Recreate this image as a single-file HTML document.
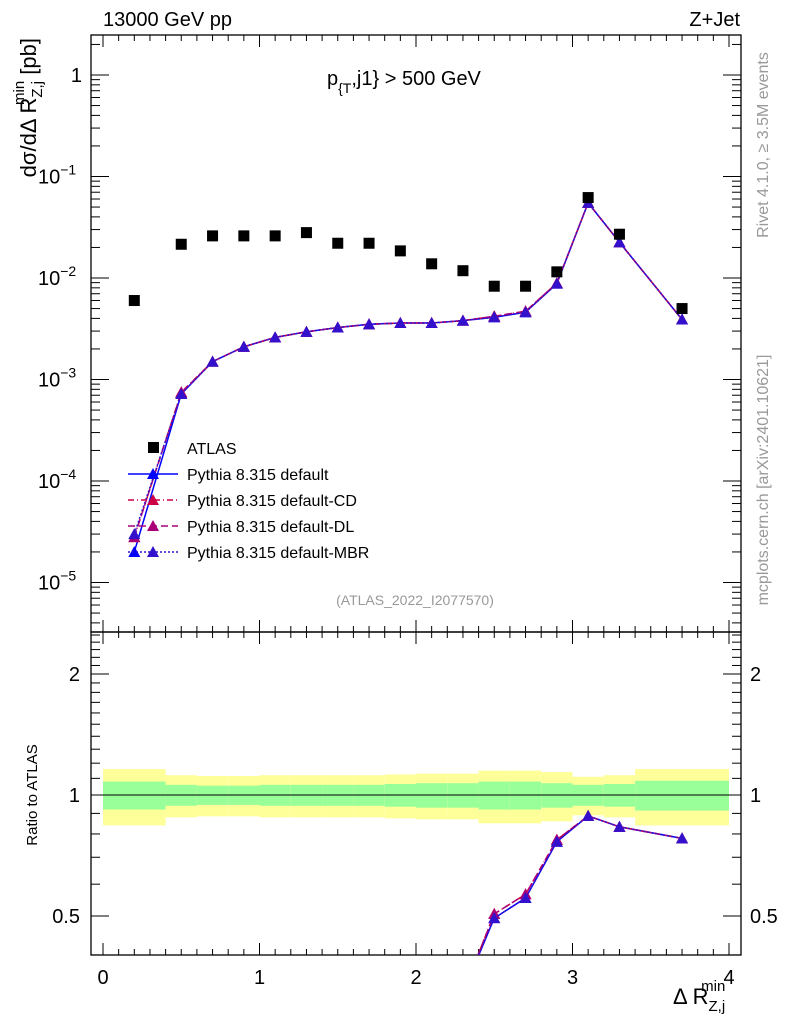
<!DOCTYPE html>
<html><head><meta charset="utf-8"><style>
html,body{margin:0;background:#fff;overflow:hidden;width:786px;height:1024px;}
svg{display:block;font-family:"Liberation Sans",sans-serif;}
</style></head><body>
<svg id="chart" width="786" height="1024" viewBox="0 0 786 1024" xmlns="http://www.w3.org/2000/svg">
<g id="g"></g>
</svg>
<script>
const xVals=[0.2,0.5,0.7,0.9,1.1,1.3,1.5,1.7,1.9,2.1,2.3,2.5,2.7,2.9,3.1,3.3,3.7];
const atlasVals=[0.0060,0.0215,0.026,0.026,0.026,0.028,0.022,0.022,0.0185,0.0138,0.0118,0.0083,0.0083,0.0115,0.062,0.027,0.0050];
const pyDefault=[2.0e-5,7.2e-4,1.5e-3,2.1e-3,2.6e-3,2.95e-3,3.25e-3,3.5e-3,3.6e-3,3.6e-3,3.8e-3,4.1e-3,4.6e-3,8.8e-3,0.055,0.0225,3.9e-3];
const pyCD=[2.8e-5,7.5e-4,1.5e-3,2.1e-3,2.6e-3,2.95e-3,3.25e-3,3.5e-3,3.6e-3,3.6e-3,3.8e-3,4.2e-3,4.7e-3,8.9e-3,0.055,0.0225,3.9e-3];
const pyDL=[2.8e-5,7.4e-4,1.5e-3,2.1e-3,2.6e-3,2.95e-3,3.25e-3,3.5e-3,3.6e-3,3.6e-3,3.8e-3,4.2e-3,4.7e-3,8.9e-3,0.055,0.0225,3.9e-3];
const pyMBR=[3.0e-5,7.2e-4,1.5e-3,2.1e-3,2.6e-3,2.95e-3,3.25e-3,3.5e-3,3.6e-3,3.6e-3,3.8e-3,4.1e-3,4.6e-3,8.8e-3,0.055,0.0225,3.9e-3];
const binEdges=[0,0.4,0.6,0.8,1.0,1.2,1.4,1.6,1.8,2.0,2.2,2.4,2.6,2.8,3.0,3.2,3.4,4.0];
const bandYellow=[0.16,0.12,0.115,0.115,0.12,0.12,0.12,0.12,0.125,0.13,0.13,0.15,0.15,0.14,0.11,0.12,0.16];
const bandGreen=[0.08,0.06,0.055,0.055,0.06,0.06,0.06,0.06,0.065,0.07,0.07,0.08,0.08,0.07,0.06,0.065,0.085];
const xTicks=[0,1,2,3,4];
const yTicks=[1,0.1,0.01,0.001,0.0001,0.00001];
const yTickLabels=["1","10","10","10","10","10"];
const yTickExp=["","−1","−2","−3","−4","−5"];
const rTicks=[0.5,1,2];
const rTickLabels=["0.5","1","2"];

const NS="http://www.w3.org/2000/svg";
const g=document.getElementById('g');
const L=91,R=741,T=35,M=632,B=955;
const X=v=>103+(729-103)*v/4;
const Y=v=>75-101.5*Math.log10(v);
const RY=v=>795-402*Math.log10(v);
function el(tag,attrs,parent){const e=document.createElementNS(NS,tag);for(const k in attrs)e.setAttribute(k,attrs[k]);(parent||g).appendChild(e);return e;}
function txt(x,y,s,attrs,parent){const t=el('text',Object.assign({x:x,y:y},attrs||{}),parent);t.textContent=s;return t;}

const clipR=el('clipPath',{id:'cr'});el('rect',{x:L,y:M,width:R-L,height:B-M},clipR);
const clipM=el('clipPath',{id:'cm'});el('rect',{x:L,y:T,width:R-L,height:M-T},clipM);
const bands=el('g',{'clip-path':'url(#cr)'});

for(let i=0;i<bandYellow.length;i++){
  const x0=X(binEdges[i]),x1=X(binEdges[i+1]);
  const r1=el('rect',{x:x0,y:RY(1+bandYellow[i]),width:x1-x0,height:RY(1-bandYellow[i])-RY(1+bandYellow[i]),fill:'#ffff99'},bands);
  
  const r2=el('rect',{x:x0,y:RY(1+bandGreen[i]),width:x1-x0,height:RY(1-bandGreen[i])-RY(1+bandGreen[i]),fill:'#99ff99'},bands);
  
}
el('line',{x1:X(0),x2:X(4),y1:RY(1),y2:RY(1),stroke:'#000','stroke-width':1});

for(const [y0,y1,nm] of [[T,M,'main-frame'],[M,B,'ratio-frame']]){
  const f=el('rect',{x:L,y:y0,width:R-L,height:y1-y0,fill:'none',stroke:'#000','stroke-width':1.3});
  
}
for(const [y0,y1] of [[T,M],[M,B]]){
  for(let k=0;k<=40;k++){
    const v=k/10;
    const major=k%10==0;const len=major?12:6;
    el('line',{x1:X(v),x2:X(v),y1:y1,y2:y1-len,stroke:'#000'});
    el('line',{x1:X(v),x2:X(v),y1:y0,y2:y0+len,stroke:'#000'});
  }
}
xTicks.forEach(v=>{const t=txt(X(v),984,String(v),{'font-size':20,'text-anchor':'middle'});});
for(let d=-6;d<=0;d++){
  for(let m=1;m<10;m++){
    const v=m*Math.pow(10,d);const y=Y(v);if(y<T||y>M)continue;
    const len=m==1?18:9;
    el('line',{x1:L,x2:L+len,y1:y,y2:y,stroke:'#000'});
    el('line',{x1:R,x2:R-len,y1:y,y2:y,stroke:'#000'});
  }
}
yTicks.forEach((v,i)=>{
  const t=el('text',{x:i==0?82:38,y:Y(v)+7,'font-size':20,'text-anchor':i==0?'end':'start'});
  
  t.textContent=yTickLabels[i];
  if(yTickExp[i]){const s=el('tspan',{dy:-9,'font-size':14},t);s.textContent=yTickExp[i];}
});
for(let k=4;k<=25;k++){
  const v=k/10;const y=RY(v);if(y<M||y>B)continue;
  const major=(k==5||k==10||k==20);const len=major?18:9;
  el('line',{x1:L,x2:L+len,y1:y,y2:y,stroke:'#000'});
  el('line',{x1:R,x2:R-len,y1:y,y2:y,stroke:'#000'});
}
rTicks.forEach((v,i)=>{
  const t1=txt(80,RY(v)+7,rTickLabels[i],{'font-size':20,'text-anchor':'end'});
  
  const t2=txt(750,RY(v)+7,rTickLabels[i],{'font-size':20});
  
});

const series=[
 {vals:pyDefault,color:'#0000ff',dash:'',name:'Pythia 8.315 default',nm:'series-default'},
 {vals:pyCD,color:'#cc0044',dash:'6,3,1,3',name:'Pythia 8.315 default-CD',nm:'series-cd'},
 {vals:pyDL,color:'#aa0077',dash:'7,4',name:'Pythia 8.315 default-DL',nm:'series-dl'},
 {vals:pyMBR,color:'#3311cc',dash:'2,2',name:'Pythia 8.315 default-MBR',nm:'series-mbr'}
];
function tri(parent,x,y,c){return el('polygon',{points:`${x},${y-6} ${x-6},${y+5} ${x+6},${y+5}`,fill:c},parent);}
const mainG=el('g',{'clip-path':'url(#cm)'});
const ratG=el('g',{'clip-path':'url(#cr)'});
series.forEach(s=>{
  const gm=el('g',{},mainG);
  const pts=xVals.map((x,i)=>X(x)+','+Y(s.vals[i])).join(' ');
  el('polyline',{points:pts,fill:'none',stroke:s.color,'stroke-width':1.5,'stroke-dasharray':s.dash},gm);
  xVals.forEach((x,i)=>{const p=tri(gm,X(x),Y(s.vals[i]),s.color);});
  const gr=el('g',{},ratG);
  const rp=xVals.map((x,i)=>X(x)+','+RY(s.vals[i]/atlasVals[i])).join(' ');
  el('polyline',{points:rp,fill:'none',stroke:s.color,'stroke-width':1.5,'stroke-dasharray':s.dash},gr);
  xVals.forEach((x,i)=>{const p=tri(gr,X(x),RY(s.vals[i]/atlasVals[i]),s.color);});
});
const ag=el('g',{},mainG);
xVals.forEach((x,i)=>{const r=el('rect',{x:X(x)-5.5,y:Y(atlasVals[i])-5.5,width:11,height:11,fill:'#000'},ag);});

const lg=el('g',{});
el('rect',{x:148,y:442,width:11,height:11,fill:'#000'},lg);
txt(187,454,'ATLAS',{'font-size':16},lg);
series.forEach((s,i)=>{
  const y=474+26*i;
  el('line',{x1:128,x2:178,y1:y,y2:y,stroke:s.color,'stroke-width':1.5,'stroke-dasharray':s.dash},lg);
  tri(lg,153,y,s.color);
  const t=txt(187,y+6,s.name,{'font-size':16},lg);
});

const t1=txt(103,26,'13000 GeV pp',{'font-size':20});
const t2=txt(740,26,'Z+Jet',{'font-size':20,'text-anchor':'end'});
const ct=el('text',{x:327,y:85,'font-size':20});
ct.innerHTML='p<tspan dy="8" font-size="14">{T</tspan><tspan dy="-8">,j1} &gt; 500 GeV</tspan>';
const an=txt(415,605,'(ATLAS_2022_I2077570)',{'font-size':14,'text-anchor':'middle',fill:'#999'});
const rv=txt(0,0,'Rivet 4.1.0, ≥ 3.5M events',{'font-size':16,fill:'#999','text-anchor':'middle',transform:'translate(768,145) rotate(-90)'});
const mc=txt(0,0,'mcplots.cern.ch [arXiv:2401.10621]',{'font-size':16,fill:'#999','text-anchor':'middle',transform:'translate(768,480) rotate(-90)'});
const yl=el('text',{'font-size':22,'text-anchor':'end',transform:'translate(36,38) rotate(-90)'});
yl.innerHTML='dσ/dΔ R<tspan dy="6" font-size="15">Z,j</tspan><tspan dx="-24" dy="-18" font-size="15">min</tspan><tspan dy="12"> [pb]</tspan>';
const rl=txt(0,0,'Ratio to ATLAS',{'font-size':15,'text-anchor':'middle',transform:'translate(37,795) rotate(-90)'});
const xl=el('text',{x:673,y:1004,'font-size':22});
xl.innerHTML='Δ R<tspan dy="7" font-size="15">Z,j</tspan><tspan dx="-24" dy="-20" font-size="15">min</tspan>';
</script>
</body></html>
